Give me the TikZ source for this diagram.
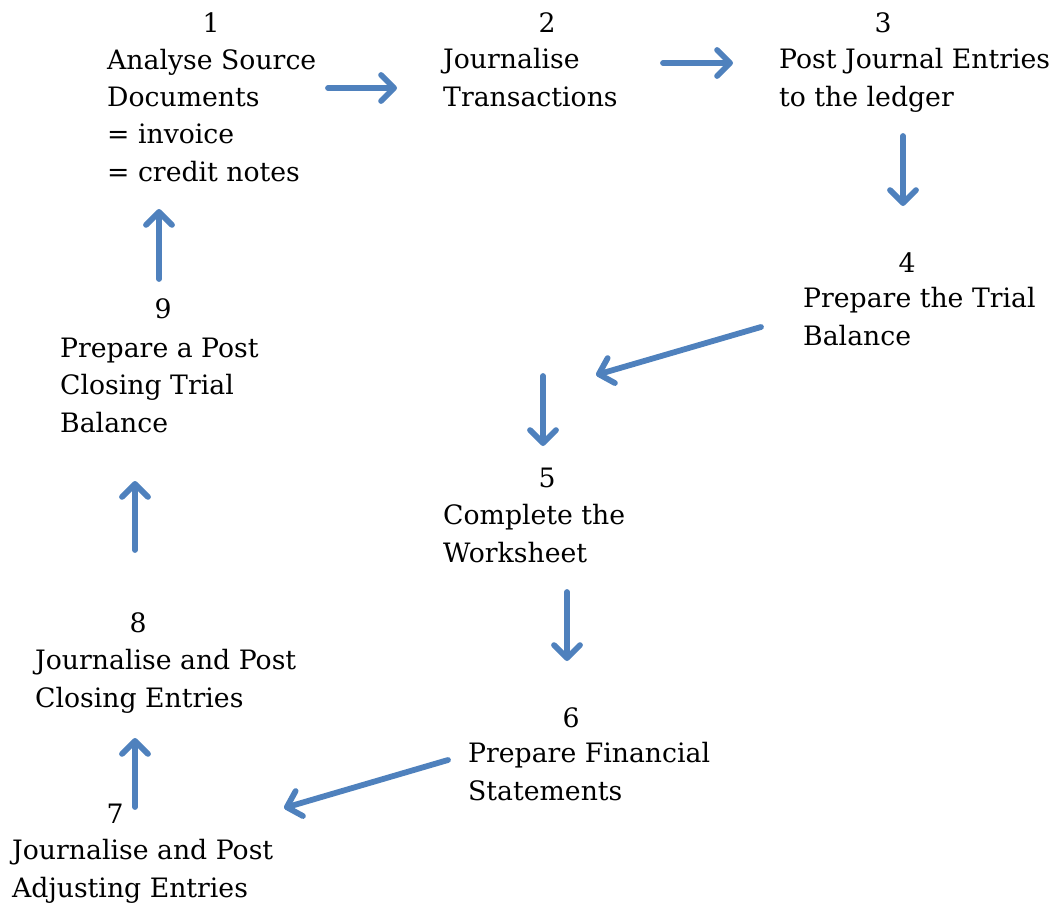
\documentclass[tikz,border=0pt]{standalone}
\usepackage{fontspec}
\setmainfont{DejaVu Serif}
\usetikzlibrary{arrows.meta}
\definecolor{arrowblue}{HTML}{4F81BD}
\tikzset{
  num/.style={anchor=base, inner sep=0pt, font=\fontsize{26.7bp}{37.3bp}\selectfont},
  label/.style={anchor=base west, inner sep=0pt, align=left, font=\fontsize{26.7bp}{37.3bp}\selectfont},
  flow/.style={draw=arrowblue, line width=5.8bp, line cap=round,
    -{Straight Barb[length=13bp, width=26bp, round]}},
}
\begin{document}
\begin{tikzpicture}[x=1bp, y=-1bp]
\useasboundingbox (0,0) rectangle (1057,907);
% numbers
\node[num] (n1) at (211,32) {1};
\node[num] (n2) at (547,32) {2};
\node[num] (n3) at (883,32) {3};
\node[num] (n4) at (907,272) {4};
\node[num] (n5) at (547,487) {5};
\node[num] (n6) at (571,727) {6};
\node[num] (n7) at (115,823) {7};
\node[num] (n8) at (138,632) {8};
\node[num] (n9) at (163,318) {9};
% texts (anchored at the baseline of their last line)
\node[label] (t1) at (107,181) {Analyse Source\\Documents\\= invoice\\= credit notes};
\node[label] (t2) at (443,106) {Journalise\\Transactions};
\node[label] (t3) at (779,106) {Post Journal Entries\\to the ledger};
\node[label] (t4) at (803,345) {Prepare the Trial\\Balance};
\node[label] (t5) at (443,562) {Complete the\\Worksheet};
\node[label] (t6) at (468,800) {Prepare Financial\\Statements};
\node[label] (t7) at (12,897) {Journalise and Post\\Adjusting Entries};
\node[label] (t8) at (35,707) {Journalise and Post\\Closing Entries};
\node[label] (t9) at (60,432) {Prepare a Post\\Closing Trial\\Balance};
% arrow endpoints
\coordinate (a1s) at (328,88);  \coordinate (a1e) at (397,88);
\coordinate (a2s) at (663,63);  \coordinate (a2e) at (733,63);
\coordinate (a3s) at (903,136); \coordinate (a3e) at (903,206);
\coordinate (a4s) at (761,327); \coordinate (a4e) at (596,375);
\coordinate (a5s) at (543,376); \coordinate (a5e) at (543,446);
\coordinate (a6s) at (567,592); \coordinate (a6e) at (567,661);
\coordinate (a7s) at (448,760); \coordinate (a7e) at (284,808);
\coordinate (a8s) at (135,807); \coordinate (a8e) at (135,738);
\coordinate (a9s) at (135,550); \coordinate (a9e) at (135,481);
\coordinate (a10s) at (159,279); \coordinate (a10e) at (159,209);
\draw[flow] (a1s) -- (a1e);
\draw[flow] (a2s) -- (a2e);
\draw[flow] (a3s) -- (a3e);
\draw[flow] (a4s) -- (a4e);
\draw[flow] (a5s) -- (a5e);
\draw[flow] (a6s) -- (a6e);
\draw[flow] (a7s) -- (a7e);
\draw[flow] (a8s) -- (a8e);
\draw[flow] (a9s) -- (a9e);
\draw[flow] (a10s) -- (a10e);
\end{tikzpicture}
\end{document}
